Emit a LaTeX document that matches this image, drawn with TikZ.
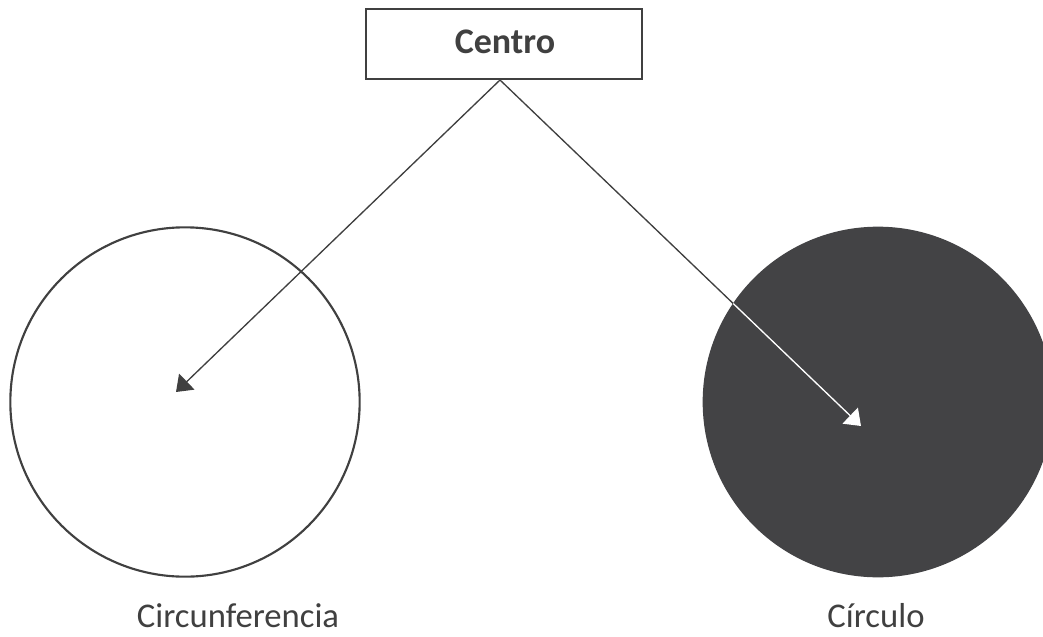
\documentclass[tikz,border=0pt]{standalone}
\usepackage{fontspec}
\setmainfont{Carlito}
\usetikzlibrary{arrows.meta}
\definecolor{ink}{RGB}{64,64,64}
\definecolor{disc}{RGB}{67,67,69}
\begin{document}
\begin{tikzpicture}[x=0.75pt,y=-0.75pt,
  lbl/.style={font=\fontsize{26}{30}\selectfont, text=ink, anchor=base, inner sep=0pt},
  boxnode/.style={draw=ink, line width=1.6pt, minimum width=207pt, minimum height=53pt, inner sep=0pt},
  conn/.style={draw=ink, line width=1pt, -{Triangle[length=11.25pt,width=16.5pt]}}
]
\useasboundingbox (0,0) rectangle (1043,636);
% circles
\node[draw=ink, line width=1.6pt, circle, minimum size=262pt, inner sep=0pt] (circ) at (185,402) {};
\begin{scope}
\clip (0,0) rectangle (1043,636);
\node[fill=disc, circle, minimum size=263pt, inner sep=0pt] (disk) at (878,402) {};
\end{scope}
% box
\node[boxnode] (centro) at (504,44) {};
\node[lbl, font=\fontsize{27}{30}\selectfont\bfseries] (centrotxt) at (505,53) {Centro};
\coordinate (src) at (500,80);
\coordinate (tipL) at (176,392);
\coordinate (tipR) at (861,426);
% connectors
\draw[conn, fill=ink] (src) -- (tipL);
\draw[conn, fill=ink] (src) -- (tipR);
\begin{scope}
\clip (disk.center) circle[radius=175];
\draw[conn, draw=white, fill=white] (src) -- (tipR);
\end{scope}
% labels
\node[lbl] (lcirc) at (238,627) {Circunferencia};
\node[lbl] (ldisk) at (876,627) {Círculo};
\end{tikzpicture}
\end{document}
